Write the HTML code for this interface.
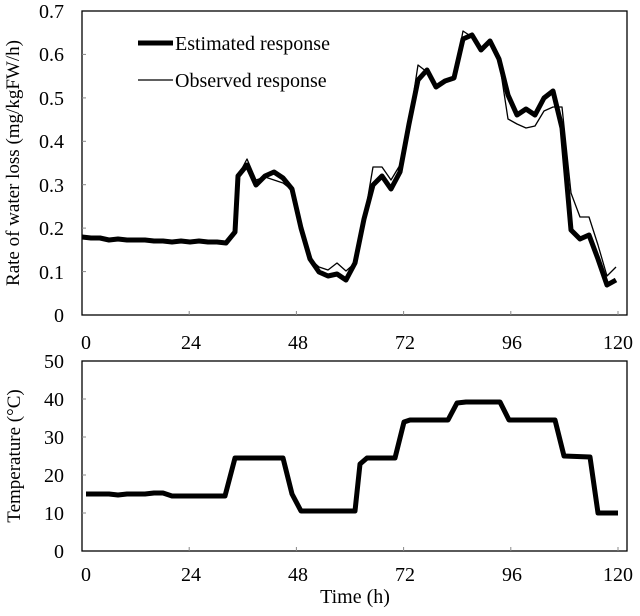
<!DOCTYPE html>
<html><head><meta charset="utf-8"><style>
html,body{margin:0;padding:0;background:#fff;}
svg{display:block;font-family:"Liberation Serif",serif;}
</style></head><body>
<svg width="640" height="616" viewBox="0 0 640 616" xmlns="http://www.w3.org/2000/svg">
<rect width="640" height="616" fill="#fff"/>
<!-- top frame -->
<rect x="82" y="11" width="545" height="304" fill="none" stroke="#000" stroke-width="1.3"/>
<g stroke="#888" stroke-width="1">
<line x1="82" y1="54.4" x2="86" y2="54.4"/><line x1="82" y1="97.9" x2="86" y2="97.9"/><line x1="82" y1="141.3" x2="86" y2="141.3"/><line x1="82" y1="184.7" x2="86" y2="184.7"/><line x1="82" y1="228.1" x2="86" y2="228.1"/><line x1="82" y1="271.6" x2="86" y2="271.6"/>
<line x1="189.2" y1="315" x2="189.2" y2="311"/><line x1="296.4" y1="315" x2="296.4" y2="311"/><line x1="403.6" y1="315" x2="403.6" y2="311"/><line x1="510.8" y1="315" x2="510.8" y2="311"/><line x1="618" y1="315" x2="618" y2="311"/>
</g>
<g font-size="20" text-anchor="end">
<text x="64" y="18">0.7</text><text x="64" y="61">0.6</text><text x="64" y="105">0.5</text><text x="64" y="148">0.4</text><text x="64" y="192">0.3</text><text x="64" y="235">0.2</text><text x="64" y="279">0.1</text><text x="64" y="322">0</text>
</g>
<g font-size="20" text-anchor="middle">
<text x="86" y="349">0</text><text x="191" y="349">24</text><text x="298" y="349">48</text><text x="405" y="349">72</text><text x="512" y="349">96</text><text x="618" y="349">120</text>
</g>
<text font-size="19" text-anchor="middle" transform="translate(19,163) rotate(-90)">Rate of water loss (mg/kgFW/h)</text>
<!-- legend -->
<line x1="138" y1="43" x2="173" y2="43" stroke="#000" stroke-width="5"/>
<text x="175" y="50" font-size="20">Estimated response</text>
<line x1="138" y1="80" x2="173" y2="80" stroke="#000" stroke-width="1.3"/>
<text x="175" y="87" font-size="20">Observed response</text>
<!-- observed -->
<polyline fill="none" stroke="#000" stroke-width="1.3" stroke-linejoin="round" points="82,237 91,238 100,238 109,241 118,239 127,240 136,240 145,240 154,241 163,241 172,243 181,241 190,242 199,242 208,243 217,242 226,243 235,233 238,176 247,159 256,180 265,177 274,180 283,183 292,190 301,228 310,259 319,267 328,270 337,263 346,271 355,263 364,220 373,167 382,167 391,180 400,165 409,124 418,65 427,72 436,88 445,80 454,78 463,31 472,37 481,50 490,43 499,60 508,119 517,124 526,128 535,126 544,111 553,107 562,107 571,193 580,217 589,217 598,245 607,276 616,267"/>
<!-- estimated -->
<polyline fill="none" stroke="#000" stroke-width="5" stroke-linejoin="round" points="82,237 91,238 100,238 109,240 118,239 127,240 136,240 145,240 154,241 163,241 172,242 181,241 190,242 199,241 208,242 217,242 226,243 235,232 238,176 247,165 256,185 265,176 274,172 283,178 292,189 301,228 310,259 319,272 328,276 337,274 346,280 355,263 364,219 373,185 382,176 391,189 400,172 409,124 418,80 427,70 436,87 445,81 454,78 463,39 472,35 481,50 490,41 499,59 508,95 517,115 526,109 535,115 544,98 553,91 562,128 571,230 580,239 589,235 598,259 607,285 616,280"/>
<!-- bottom frame -->
<rect x="82" y="361" width="545" height="190" fill="none" stroke="#000" stroke-width="1.3"/>
<g stroke="#888" stroke-width="1">
<line x1="82" y1="399" x2="86" y2="399"/><line x1="82" y1="437" x2="86" y2="437"/><line x1="82" y1="475" x2="86" y2="475"/><line x1="82" y1="513" x2="86" y2="513"/>
<line x1="189.2" y1="551" x2="189.2" y2="547"/><line x1="296.4" y1="551" x2="296.4" y2="547"/><line x1="403.6" y1="551" x2="403.6" y2="547"/><line x1="510.8" y1="551" x2="510.8" y2="547"/><line x1="618" y1="551" x2="618" y2="547"/>
</g>
<g font-size="20" text-anchor="end">
<text x="64" y="368">50</text><text x="64" y="406">40</text><text x="64" y="444">30</text><text x="64" y="482">20</text><text x="64" y="520">10</text><text x="64" y="558">0</text>
</g>
<g font-size="20" text-anchor="middle">
<text x="86" y="581">0</text><text x="191" y="581">24</text><text x="298" y="581">48</text><text x="405" y="581">72</text><text x="512" y="581">96</text><text x="618" y="581">120</text>
</g>
<text x="355" y="603" font-size="20" text-anchor="middle">Time (h)</text>
<text font-size="19" text-anchor="middle" transform="translate(20,456) rotate(-90)">Temperature (°C)</text>
<polyline fill="none" stroke="#000" stroke-width="5" stroke-linejoin="round" points="86,494 95,494 109,494 118,495 127,494 145,494 154,493 163,493 172,496 225,496 235,458 239,458 283,458 292,494 301,511 355,511 360,464 367,458 395,458 404,422 410,420 448,420 457,403 466,402 500,402 509,420 555,420 564,456 590,457 598,513 618,513"/>
</svg>
</body></html>
